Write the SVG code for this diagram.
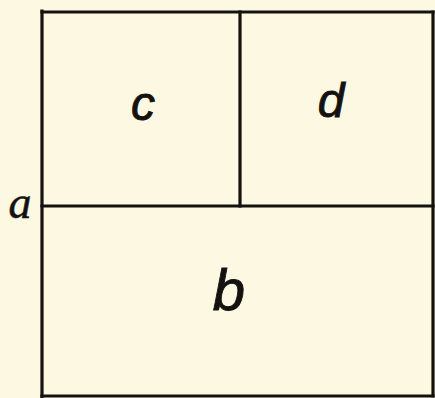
<svg xmlns="http://www.w3.org/2000/svg" width="435" height="398" viewBox="0 0 435 398">
<style>
.ln{stroke:#141210;stroke-width:3.2;fill:none;stroke-linecap:square}
.lb{font-family:"Liberation Sans",Arial,sans-serif;font-style:italic;fill:#141210;stroke:#141210;stroke-width:0.9;text-anchor:middle}
.la{font-family:"Liberation Serif","Times New Roman",serif;font-style:italic;fill:#141210;stroke:#141210;stroke-width:0.5;text-anchor:middle}
</style>
<rect x="0" y="0" width="435" height="398" fill="#fdf8e2"/>
<g id="frame">
<line class="ln" x1="42" y1="11" x2="42" y2="397"/>
<line class="ln" x1="42" y1="12" x2="433" y2="12"/>
<line class="ln" x1="433" y1="12" x2="433" y2="396"/>
<line class="ln" x1="42" y1="396" x2="433" y2="396"/>
<line class="ln" x1="42" y1="206" x2="433" y2="206"/>
<line class="ln" x1="240" y1="12" x2="240" y2="206"/>
</g>
<g id="c"><text class="lb" x="143" y="120" font-size="48">c</text></g>
<g id="d"><text class="lb" x="331" y="117" font-size="48">d</text></g>
<g id="b"><text class="lb" x="229" y="310" font-size="58">b</text></g>
<g id="a"><text class="la" x="20" y="218" font-size="46">a</text></g>
</svg>
